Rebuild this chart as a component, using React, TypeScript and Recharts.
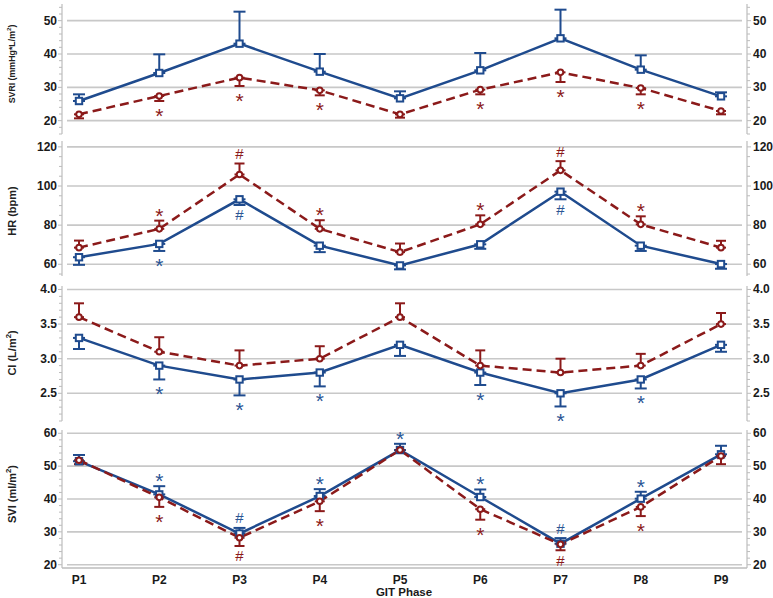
import { LineChart, Line, XAxis, YAxis, ErrorBar, ReferenceLine } from "recharts";

const phases = ["P1", "P2", "P3", "P4", "P5", "P6", "P7", "P8", "P9"];

// SVRI (mmHg*L/m2)
const svriBlue = [25.9, 34.3, 43.1, 34.7, 26.7, 35.1, 44.7, 35.3, 27.3];
const svriBlueSd = [2.0, 5.6, 9.6, 5.3, 2.1, 5.2, 8.6, 4.3, 1.2];
const svriRed = [21.9, 27.4, 32.9, 29.1, 21.9, 29.3, 34.5, 29.8, 22.9];
const svriRedSd = [1.2, 1.5, 2.5, 1.5, 1.0, 1.4, 2.9, 1.9, 1.0];
const svriBlueMarks = ["", "", "", "", "", "", "", "", ""];
const svriRedMarks = ["", "*", "*", "*", "", "*", "*", "*", ""];

// HR (bpm)
const hrBlue = [63.6, 70.4, 93.2, 69.5, 59.4, 70.2, 97.1, 69.5, 60.1];
const hrBlueSd = [3.9, 3.6, 2.9, 3.3, 2.0, 2.3, 3.9, 2.7, 2.4];
const hrRed = [68.5, 78.1, 105.9, 78.1, 66.2, 80.4, 108.0, 80.4, 68.5];
const hrRedSd = [3.6, 4.2, 5.6, 4.4, 4.4, 4.6, 4.7, 4.1, 3.5];
const hrBlueMarks = ["", "*", "#", "", "", "", "#", "", ""];
const hrRedMarks = ["", "*", "#", "*", "", "*", "#", "*", ""];

// CI (L/m2)
const ciBlue = [3.3, 2.9, 2.7, 2.8, 3.2, 2.8, 2.5, 2.7, 3.2];
const ciBlueSd = [0.16, 0.2, 0.23, 0.2, 0.16, 0.18, 0.19, 0.13, 0.1];
const ciRed = [3.6, 3.1, 2.9, 3.0, 3.6, 2.9, 2.8, 2.9, 3.5];
const ciRedSd = [0.2, 0.21, 0.22, 0.18, 0.2, 0.22, 0.2, 0.17, 0.16];
const ciBlueMarks = ["", "*", "*", "*", "", "*", "*", "*", ""];
const ciRedMarks = ["", "", "", "", "", "", "", "", ""];

// SVI (ml/m2)
const sviBlue = [51.5, 41.4, 29.5, 40.9, 54.9, 40.6, 26.4, 40.1, 53.6];
const sviBlueSd = [1.9, 2.5, 1.7, 2.1, 1.9, 2.3, 1.7, 2.1, 2.6];
const sviRed = [51.8, 40.5, 28.2, 39.3, 54.9, 36.9, 26.2, 37.6, 53.1];
const sviRedSd = [1.2, 2.9, 2.5, 3.0, 0.8, 3.2, 1.8, 2.8, 2.5];
const sviBlueMarks = ["", "*", "#", "*", "*", "*", "#", "*", ""];
const sviRedMarks = ["", "*", "#", "*", "", "*", "#", "*", ""];

const svriTicks = [20, 30, 40, 50];
const hrTicks = [60, 80, 100, 120];
const ciTicks = [2.5, 3.0, 3.5, 4.0];
const sviTicks = [20, 30, 40, 50, 60];

const BLUE = "#1f4b8e";
const RED = "#8b1a1a";
const GRID = "#c8c8c8";
const AXIS = "#bcbcbc";
const FONT = "'Liberation Sans', Arial, sans-serif";

function buildRows(
  blue: number[], blueSd: number[], blueUp: boolean, blueMarks: string[],
  red: number[], redSd: number[], redUp: boolean, redMarks: string[]
) {
  return phases.map((phase, i) => ({
    phase,
    blue: blue[i],
    blueErr: blueUp ? [0, blueSd[i]] : [blueSd[i], 0],
    blueEnd: blueUp ? blue[i] + blueSd[i] : blue[i] - blueSd[i],
    blueMark: blueMarks[i],
    red: red[i],
    redErr: redUp ? [0, redSd[i]] : [redSd[i], 0],
    redEnd: redUp ? red[i] + redSd[i] : red[i] - redSd[i],
    redMark: redMarks[i],
  }));
}

// axis ticks incl. minor ones, aligned to the step
function axisTicks(lo: number, hi: number, step: number) {
  const out: number[] = [];
  const start = Math.ceil(lo / step - 1e-9);
  for (let k = start; k * step <= hi + 1e-9; k++) out.push(Math.round(k * step * 100) / 100);
  return out;
}

const makeTick = (side: "left" | "right", majors: number[], digits: number) => (props: any) => {
  const { x, y, payload } = props;
  const v = payload.value;
  const major = majors.some((m) => Math.abs(m - v) < 1e-6);
  const ax = side === "left" ? x + 8 : x - 8;
  const dir = side === "left" ? -1 : 1;
  return (
    <g>
      <line x1={ax} x2={ax + dir * (major ? 4 : 3)} y1={y} y2={y} stroke={AXIS} strokeWidth={1} />
      {major && (
        <text
          x={ax + dir * (side === "left" ? 5 : 6)}
          y={y}
          dy={4}
          textAnchor={side === "left" ? "end" : "start"}
          fontSize={12}
          fontWeight="bold"
          fontFamily={FONT}
          fill="#1a1a1a"
        >
          {v.toFixed(digits)}
        </text>
      )}
    </g>
  );
};

const makeMark = (key: string, color: string, up: boolean) => (props: any) => {
  const { cx, cy, payload, index } = props;
  const m = payload[key];
  if (!m || cx == null || cy == null) return <g key={`m-${key}-${index}`} />;
  const star = m === "*";
  const fs = star ? 21 : 15;
  const yc = up ? cy - 10 : cy + 10;
  const base = yc + (star ? 0.57 : 0.36) * fs;
  return (
    <text key={`m-${key}-${index}`} x={cx} y={base} textAnchor="middle" fontSize={fs} fontFamily={FONT} fill={color}>
      {m}
    </text>
  );
};

const SquareDot = (props: any) => {
  const { cx, cy, index } = props;
  if (cx == null || cy == null) return <g key={`sq-${index}`} />;
  return <rect key={`sq-${index}`} x={cx - 3.2} y={cy - 3.2} width={6.4} height={6.4} fill="#fff" stroke={BLUE} strokeWidth={2} />;
};

const YTitle = ({ main, sup, tail, cy, size }: any) => (
  <text
    x={12}
    y={cy}
    transform={`rotate(-90 12 ${cy})`}
    textAnchor="middle"
    dominantBaseline="central"
    fontSize={size}
    fontWeight="bold"
    fontFamily={FONT}
    fill="#222"
  >
    {main}
    {sup && <tspan dy={-size * 0.4} fontSize={size * 0.7}>{sup}</tspan>}
    {sup && <tspan dy={size * 0.4}>{tail}</tspan>}
  </text>
);

const XTitle = () => (
  <text x={404} y={165} textAnchor="middle" dominantBaseline="central" fontSize={11.5} fontWeight="bold" fontFamily={FONT} fill="#1a1a1a">
    GIT Phase
  </text>
);

type PanelProps = {
  top: number;
  height: number;
  marginTop: number;
  marginBottom: number;
  domain: [number, number];
  majors: number[];
  minorStep: number;
  digits: number;
  rows: any[];
  blueUp: boolean;
  redUp: boolean;
  title: { main: string; sup?: string; tail?: string; cy: number; size: number };
  showX?: boolean;
};

function Panel(p: PanelProps) {
  const ticks = axisTicks(p.domain[0], p.domain[1], p.minorStep);
  return (
    <div style={{ position: "absolute", left: 0, top: p.top }}>
      <LineChart
        width={773}
        height={p.height}
        data={p.rows}
        margin={{ top: p.marginTop, right: 0, bottom: p.marginBottom, left: 0 }}
      >
        <XAxis
          dataKey="phase"
          hide={!p.showX}
          padding={{ left: 17, right: 26 }}
          height={30}
          tickLine={false}
          tickMargin={1}
          axisLine={{ stroke: AXIS, strokeWidth: 1.5 }}
          tick={{ fontSize: 12, fontWeight: "bold", fontFamily: FONT, fill: "#1a1a1a" }}
          label={p.showX ? <XTitle /> : undefined}
        />
        <YAxis
          yAxisId="l"
          orientation="left"
          width={62}
          domain={p.domain}
          ticks={ticks}
          interval={0}
          allowDataOverflow
          tickSize={5}
          tickMargin={3}
          tickLine={false}
          axisLine={{ stroke: AXIS, strokeWidth: 1.2 }}
          tick={makeTick("left", p.majors, p.digits)}
          label={<YTitle {...p.title} />}
        />
        <YAxis
          yAxisId="r"
          orientation="right"
          width={26}
          domain={p.domain}
          ticks={ticks}
          interval={0}
          allowDataOverflow
          tickSize={5}
          tickMargin={3}
          tickLine={false}
          axisLine={{ stroke: AXIS, strokeWidth: 1.2 }}
          tick={makeTick("right", p.majors, p.digits)}
        />
        {p.majors.map((v) => (
          <ReferenceLine
            key={v}
            yAxisId="l"
            y={v}
            stroke={GRID}
            strokeWidth={1.6}
            strokeDasharray="0 5 675 20"
          />
        ))}
        <Line
          yAxisId="l"
          dataKey="blue"
          stroke={BLUE}
          strokeWidth={2.5}
          dot={SquareDot}
          activeDot={false}
          isAnimationActive={false}
        >
          <ErrorBar dataKey="blueErr" width={6} stroke={BLUE} strokeWidth={2} />
        </Line>
        <Line
          yAxisId="l"
          dataKey="red"
          stroke={RED}
          strokeWidth={2.5}
          strokeDasharray="9 5"
          dot={{ r: 2.8, fill: "#fff", stroke: RED, strokeWidth: 2, strokeDasharray: "" }}
          activeDot={false}
          isAnimationActive={false}
        >
          <ErrorBar dataKey="redErr" width={5} stroke={RED} strokeWidth={2} />
        </Line>
        <Line
          yAxisId="l"
          dataKey="blueEnd"
          stroke="none"
          dot={makeMark("blueMark", "#2a5594", p.blueUp)}
          activeDot={false}
          legendType="none"
          isAnimationActive={false}
        />
        <Line
          yAxisId="l"
          dataKey="redEnd"
          stroke="none"
          dot={makeMark("redMark", RED, p.redUp)}
          activeDot={false}
          legendType="none"
          isAnimationActive={false}
        />
      </LineChart>
    </div>
  );
}

export default function App() {
  const svriRows = buildRows(svriBlue, svriBlueSd, true, svriBlueMarks, svriRed, svriRedSd, false, svriRedMarks);
  const hrRows = buildRows(hrBlue, hrBlueSd, false, hrBlueMarks, hrRed, hrRedSd, true, hrRedMarks);
  const ciRows = buildRows(ciBlue, ciBlueSd, false, ciBlueMarks, ciRed, ciRedSd, true, ciRedMarks);
  const sviRows = buildRows(sviBlue, sviBlueSd, true, sviBlueMarks, sviRed, sviRedSd, false, sviRedMarks);

  return (
    <div style={{ position: "absolute", left: 0, top: 0, width: 773, height: 598, background: "#fff" }}>
      <Panel
        top={0}
        height={136}
        marginTop={4}
        marginBottom={2}
        domain={[16, 55]}
        majors={svriTicks}
        minorStep={2}
        digits={0}
        rows={svriRows}
        blueUp={true}
        redUp={false}
        title={{ main: "SVRI (mmHg*L/m", sup: "2", tail: ")", cy: 64, size: 8.8 }}
      />
      <Panel
        top={138}
        height={140}
        marginTop={3}
        marginBottom={2}
        domain={[54, 123]}
        majors={hrTicks}
        minorStep={5}
        digits={0}
        rows={hrRows}
        blueUp={false}
        redUp={true}
        title={{ main: "HR (bpm)", cy: 73, size: 11 }}
      />
      <Panel
        top={283}
        height={152}
        marginTop={3}
        marginBottom={14}
        domain={[2.1, 4.05]}
        majors={ciTicks}
        minorStep={0.1}
        digits={1}
        rows={ciRows}
        blueUp={false}
        redUp={true}
        title={{ main: "CI (L/m", sup: "2", tail: ")", cy: 70, size: 11 }}
      />
      <Panel
        top={427}
        height={171}
        marginTop={3}
        marginBottom={0}
        domain={[19, 61]}
        majors={sviTicks}
        minorStep={2}
        digits={0}
        rows={sviRows}
        blueUp={true}
        redUp={false}
        title={{ main: "SVI (ml/m", sup: "2", tail: ")", cy: 67, size: 11 }}
        showX
      />
    </div>
  );
}
